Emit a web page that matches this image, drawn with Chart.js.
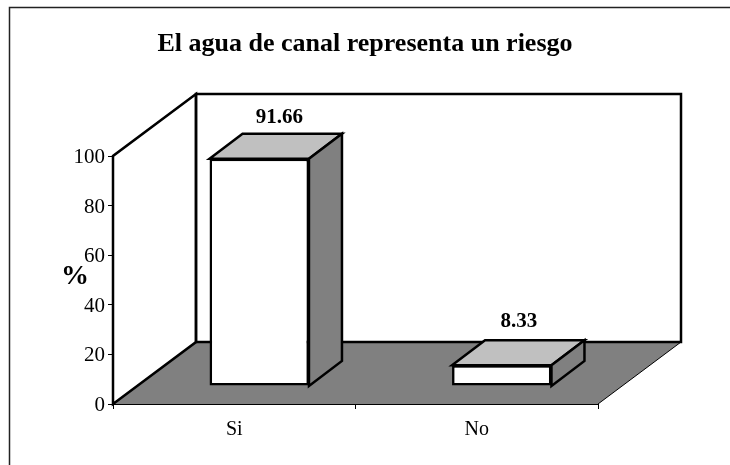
<!DOCTYPE html>
<html><head><meta charset="utf-8">
<style>html,body{margin:0;padding:0;background:#fff}canvas{display:block}</style>
<script src="https://cdn.jsdelivr.net/npm/chart.js@4"></script>
</head><body><canvas id="c" width="730" height="465"></canvas>
<script>
const categories = ['Si', 'No'];
const values = [91.66, 8.33];
const valueLabels = ['91.66', '8.33'];
const titleText = 'El agua de canal representa un riesgo';
const axisLabel = '%';
const FONT = '"Liberation Serif","Times New Roman",serif';

// oblique projection used for the 3D look
const WALL = {dx: 83, dy: -62};
const BAR_FRONT = {dx: 25, dy: -18};
const BAR_DEPTH = {dx: 33, dy: -25};
const LABEL_SHIFT = [{dx: 20, dy: -16}, {dx: 17, dy: -19}];
const LINE = 2.5;

function poly(ctx, pts, fill, lw) {
  ctx.beginPath();
  pts.forEach((p, i) => i ? ctx.lineTo(p[0], p[1]) : ctx.moveTo(p[0], p[1]));
  ctx.closePath();
  if (fill) { ctx.fillStyle = fill; ctx.fill(); }
  if (lw) { ctx.lineWidth = lw; ctx.strokeStyle = '#000'; ctx.lineJoin = 'miter'; ctx.stroke(); }
}

const box3d = {
  id: 'box3d',
  beforeDraw(chart) {
    const ctx = chart.ctx, a = chart.chartArea;
    const l = a.left, r = a.right, t = a.top, b = a.bottom;
    const bx = WALL.dx, by = WALL.dy;
    ctx.save();
    // outer frame
    ctx.strokeStyle = '#222'; ctx.lineWidth = 1.5;
    ctx.beginPath(); ctx.moveTo(9.5, chart.height); ctx.lineTo(9.5, 7.5); ctx.lineTo(chart.width, 7.5); ctx.stroke();
    // floor
    poly(ctx, [[l, b], [r, b], [r + bx, b + by], [l + bx, b + by]], '#808080', 0);
    ctx.strokeStyle = '#000'; ctx.lineWidth = 1;
    ctx.beginPath(); ctx.moveTo(r, b); ctx.lineTo(r + bx, b + by); ctx.stroke();
    // side wall
    poly(ctx, [[l, b], [l, t], [l + bx, t + by], [l + bx, b + by]], '#fff', LINE);
    // back wall
    poly(ctx, [[l + bx, t + by], [r + bx, t + by], [r + bx, b + by], [l + bx, b + by]], null, LINE);
    ctx.restore();
  },
  beforeDatasetsDraw(chart) {
    const ctx = chart.ctx, base = chart.scales.y.getPixelForValue(0);
    ctx.save();
    ctx.translate(BAR_FRONT.dx, BAR_FRONT.dy);
    chart.getDatasetMeta(0).data.forEach(el => {
      const x0 = el.x - el.width / 2, x1 = el.x + el.width / 2, y = el.y;
      const dx = BAR_DEPTH.dx, dy = BAR_DEPTH.dy;
      poly(ctx, [[x0, y], [x0 + dx, y + dy], [x1 + dx, y + dy], [x1, y]], '#c0c0c0', LINE);
      poly(ctx, [[x1, y], [x1 + dx, y + dy], [x1 + dx, base + dy], [x1, base]], '#808080', LINE);
    });
  },
  afterDatasetsDraw(chart) {
    const ctx = chart.ctx;
    ctx.restore();
    ctx.save();
    ctx.fillStyle = '#000';
    ctx.textAlign = 'center';
    ctx.textBaseline = 'middle';
    ctx.font = 'bold 21px ' + FONT;
    chart.getDatasetMeta(0).data.forEach((el, i) => {
      const topBack = el.y + BAR_FRONT.dy + BAR_DEPTH.dy;
      ctx.fillText(valueLabels[i], el.x + BAR_FRONT.dx + LABEL_SHIFT[i].dx, topBack + LABEL_SHIFT[i].dy);
    });
    ctx.font = 'bold 28px ' + FONT;
    ctx.fillText(axisLabel, 75, 277);
    ctx.restore();
  }
};

new Chart(document.getElementById('c'), {
  type: 'bar',
  data: {
    labels: categories,
    datasets: [{
      data: values,
      backgroundColor: '#fff',
      borderColor: '#000',
      borderWidth: LINE,
      borderSkipped: false,
      categoryPercentage: 0.41,
      barPercentage: 1,
      clip: false
    }]
  },
  plugins: [box3d],
  options: {
    responsive: false,
    animation: false,
    devicePixelRatio: 1,
    layout: {padding: 0},
    plugins: {
      legend: {display: false},
      tooltip: {enabled: false},
      title: {
        display: true,
        text: titleText,
        color: '#000',
        font: {family: FONT, size: 26, weight: 'bold', lineHeight: 1.2},
        padding: {top: 29, bottom: 95.8}
      }
    },
    scales: {
      x: {
        grid: {drawOnChartArea: false, drawTicks: true, tickLength: 5, color: '#000', lineWidth: 1},
        border: {display: true, color: '#000', width: 1},
        ticks: {color: '#000', font: {family: FONT, size: 20}, padding: 9, maxRotation: 0},
        afterFit(s) { s.height = 61; }
      },
      y: {
        min: 0, max: 100,
        grid: {drawOnChartArea: false, drawTicks: true, tickLength: 5, color: '#000', lineWidth: 1},
        border: {display: true, color: '#000', width: 2},
        ticks: {color: '#000', font: {family: FONT, size: 21}, padding: 3, stepSize: 20, labelOffset: 1.5},
        afterFit(s) { s.width = 113; }
      },
      spacer: {
        position: 'right',
        display: true,
        grid: {display: false},
        border: {display: false},
        ticks: {display: false},
        afterFit(s) { s.width = 132; }
      }
    }
  }
});
</script></body></html>
